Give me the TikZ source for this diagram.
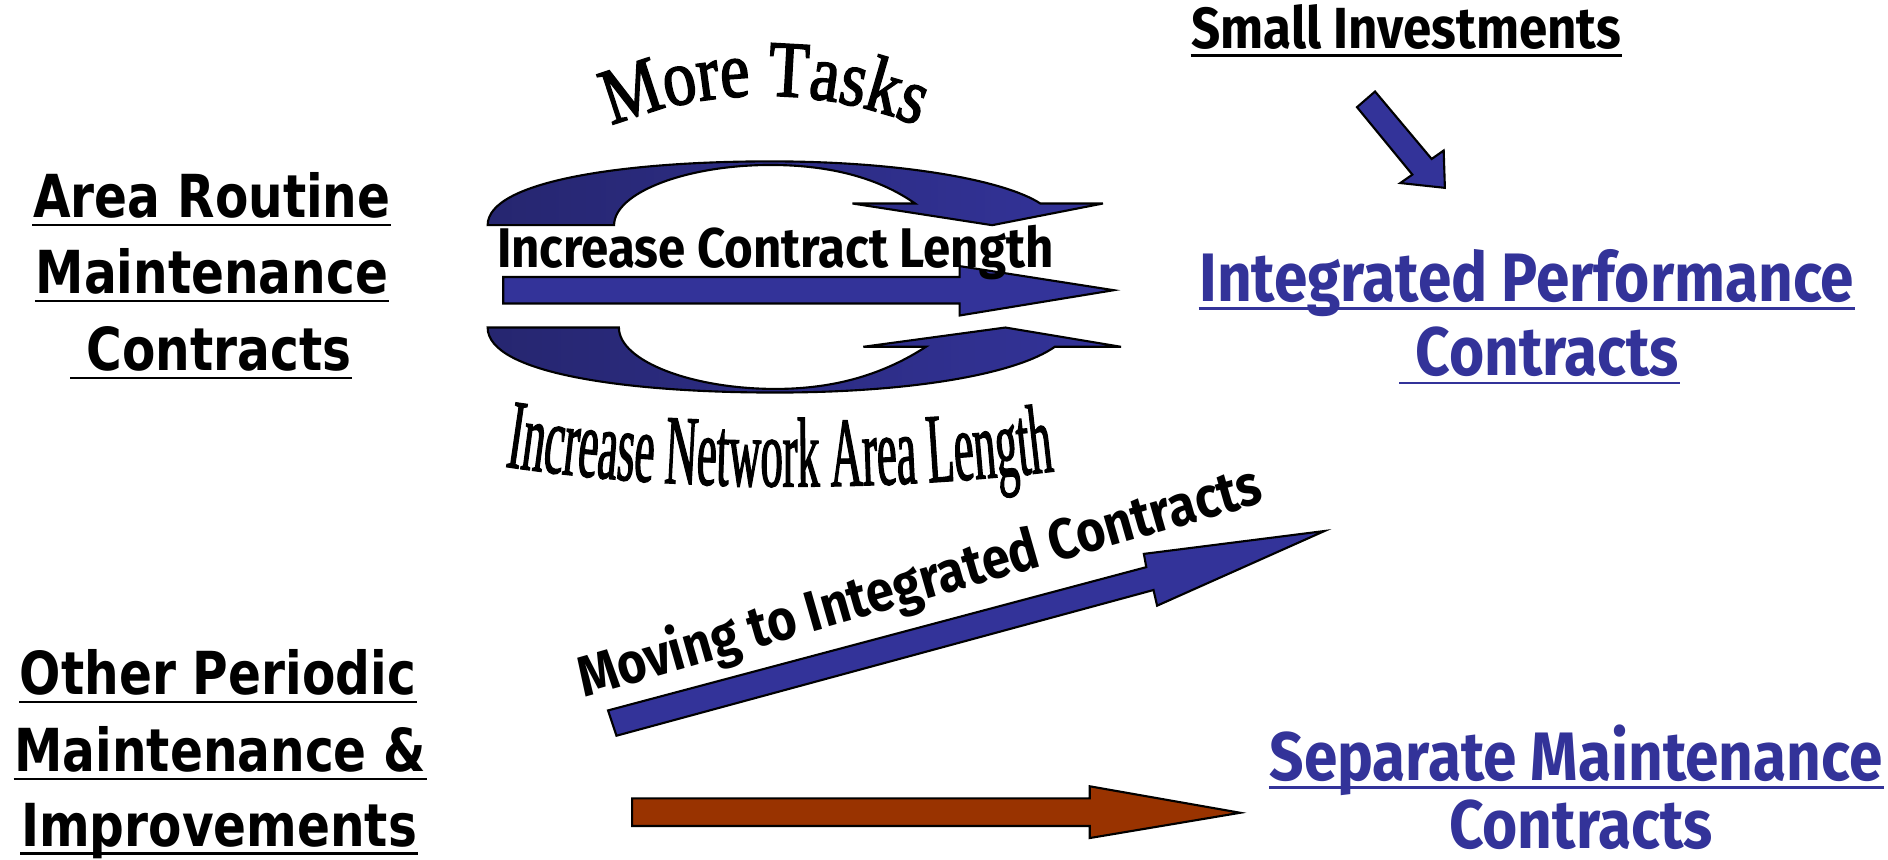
\documentclass[tikz,border=0pt]{standalone}
\usepackage{fontspec}
\usetikzlibrary{decorations.text}
\newfontfamily\labelfont{DejaVu Sans}[FakeStretch=0.82]
\newfontfamily\condfont{Fira Sans}[FakeStretch=0.88]
\newfontfamily\wordfont{Liberation Serif}[FakeStretch=0.83, FakeBold=2]
\newfontfamily\tallfont{Liberation Serif}[FakeStretch=0.45, FakeBold=1.2]
\definecolor{ipcblue}{RGB}{51,51,153}
\definecolor{navy}{RGB}{38,38,112}
\definecolor{rust}{RGB}{153,51,0}

\begin{document}
\begin{tikzpicture}[x=0.01cm, y=-0.01cm,
    lbl/.style={anchor=base, inner sep=0, font=\labelfont\bfseries\fontsize{14pt}{16pt}\selectfont},
    ttl/.style={anchor=base, inner sep=0, text=ipcblue, font=\condfont\bfseries\fontsize{16.2pt}{18pt}\selectfont},
    ul/.style={line width=0.6pt},
    blk/.style={draw=black, line width=0.5pt, fill=ipcblue}]
    \useasboundingbox (0,0) rectangle (1568,714);

    % left labels
    \node[lbl] (A1) at (176,181) {Area Routine};
    \node[lbl] (A2) at (176,244) {Maintenance};
    \node[lbl] (A3) at (182,308) {Contracts};
    \node[lbl] (B1) at (181,577) {Other Periodic};
    \node[lbl] (B2) at (183,641) {Maintenance \&};
    \node[lbl] (B3) at (182,703) {Improvements};
    \foreach \n in {A1,A2,B1,B2,B3}
        \draw[ul] ([yshift=-1.7pt]\n.base west) -- ([yshift=-1.7pt]\n.base east);
    \draw[ul] ([xshift=-3.7pt,yshift=-1.7pt]A3.base west) -- ([yshift=-1.7pt]A3.base east);

    % right titles
    \node[ttl, text=black, font=\condfont\bfseries\fontsize{13.7pt}{15pt}\selectfont] (S) at (1168,40) {Small Investments};
    \draw[ul] ([yshift=-1.7pt]S.base west) -- ([yshift=-1.7pt]S.base east);
    \node[ttl] (I1) at (1268,250) {Integrated Performance};
    \node[ttl] (I2) at (1285,312) {Contracts};
    \draw[ul, ipcblue] ([yshift=-1.7pt]I1.base west) -- ([yshift=-1.7pt]I1.base east);
    \draw[ul, ipcblue] ([xshift=-3.7pt,yshift=-1.7pt]I2.base west) -- ([yshift=-1.7pt]I2.base east);
    \node[ttl] (P1) at (1309,648) {Separate Maintenance};
    \node[ttl] (P2) at (1313,705) {Contracts};
    \draw[ul, ipcblue] ([yshift=-1.7pt]P1.base west) -- ([yshift=-1.7pt]P1.base east);

    % small arrow
    \path[blk] (1142,76) -- (1189,132) -- (1199,125) -- (1200,156) -- (1163,152) -- (1173,145) -- (1127,89) -- cycle;

    % circular arrows
    \path[draw=black, line width=0.5pt, left color=navy, right color=ipcblue]
        (405,187) .. controls (405,150) and (520,134) .. (640,134)
        .. controls (750,134) and (835,150) .. (864,169)
        -- (916,169) -- (824,187) -- (708,169) -- (760,169)
        .. controls (730,148) and (690,137) .. (640,137)
        .. controls (570,137) and (510,160) .. (510,187) -- cycle;
    \path[draw=black, line width=0.5pt, left color=navy, right color=ipcblue]
        (405,272) .. controls (405,310) and (520,326) .. (644,326)
        .. controls (760,326) and (845,310) .. (876,288)
        -- (931,288) -- (835,272) -- (717,288) -- (769,288)
        .. controls (735,310) and (695,323) .. (644,323)
        .. controls (575,323) and (514,300) .. (514,272) -- cycle;
    \path[blk] (418,230) -- (797,230) -- (797,221) -- (925,241) -- (797,262) -- (797,252) -- (418,252) -- cycle;
    \node[ttl, text=black, font=\condfont\bfseries\fontsize{13.2pt}{15pt}\selectfont] (C) at (644,222) {Increase Contract Length};

    % word art
    \path[decorate, decoration={text along path, text align=center,
        text={|\wordfont\fontsize{18.8pt}{21pt}\selectfont|More Tasks}}]
        (500,108) .. controls (585,70) and (685,70) .. (770,108);
    \path[decorate, decoration={text along path, text align=center,
        text={|\tallfont\fontsize{23.4pt}{26pt}\selectfont|Increase Network Area Length}}]
        (416,387) .. controls (560,409) and (730,409) .. (879,391);

    % lower arrows
    \path[blk] (505,590) -- (952,471) -- (950,460) -- (1100,441) -- (961,503) -- (958,490) -- (512,611) -- cycle;
    \node[ttl, text=black, rotate=16, font=\condfont\bfseries\fontsize{13.5pt}{15pt}\selectfont] (M) at (768,498) {Moving to Integrated Contracts};
    \path[blk, fill=rust] (525,663) -- (905,663) -- (905,653) -- (1030,675) -- (905,696) -- (905,686) -- (525,686) -- cycle;
\end{tikzpicture}
\end{document}
